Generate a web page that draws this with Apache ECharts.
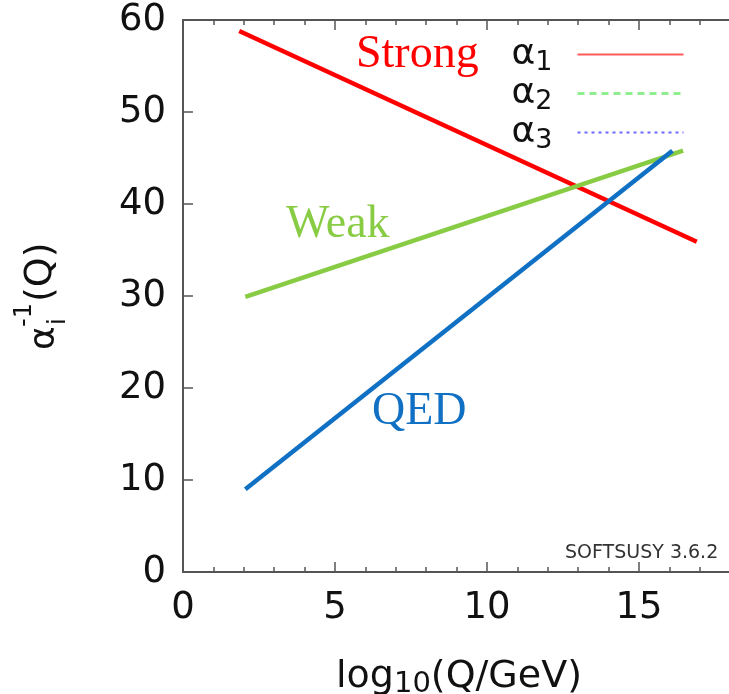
<!DOCTYPE html>
<html>
<head>
<meta charset="utf-8">
<script src="https://cdn.jsdelivr.net/npm/echarts@6/dist/echarts.min.js"></script>
<style>
  html, body { margin: 0; padding: 0; background: #fff; }
  #chart { width: 729px; height: 694px; }
</style>
</head>
<body>
<div id="chart"></div>
<script>
// α1 (red, "Strong"), α2 (green, "Weak"), α3 (blue, "QED")
const names = ["α1", "α2", "α3"];
const x1 = [1.85, 16.9];
const y1 = [58.8, 35.9];
const x2 = [2.05, 16.45];
const y2 = [29.9, 45.8];
const x3 = [2.05, 16.1];
const y3 = [9.0, 45.8];
const xTicks = [0, 5, 10, 15];
const yTicks = [0, 10, 20, 30, 40, 50, 60];

const axisColor = "#555";
const textColor = "#111";
const sans = "DejaVu Sans";
const serif = "Liberation Serif";

function pairs(xs, ys) {
  return xs.map((x, i) => [x, ys[i]]);
}

const chart = echarts.init(document.getElementById("chart"));
chart.setOption({
  animation: false,
  grid: {
    left: 183,
    top: 20,
    right: -62, // frame runs past the right edge of the picture
    bottom: 122,
    containLabel: false,
    outerBoundsMode: "none",
  },
  legend: {
    orient: "vertical",
    right: 39,
    top: 28,
    align: "right",
    itemWidth: 106,
    itemHeight: 30,
    itemGap: -4,
    data: [
      { name: names[0], itemStyle: { opacity: 0 }, lineStyle: { color: "#ff5a5a", width: 2, type: "solid", opacity: 1 } },
      { name: names[1], itemStyle: { opacity: 0 }, lineStyle: { color: "#90ee90", width: 3, type: [7, 5], opacity: 1 } },
      { name: names[2], itemStyle: { opacity: 0 }, lineStyle: { color: "#6a6aff", width: 2, type: [3, 4], opacity: 1 } },
    ],
    formatter: (n) => "{a|α}{s|" + n.slice(1) + "}",
    textStyle: {
      color: textColor,
      rich: {
        a: { fontFamily: sans, fontSize: 36, color: textColor, lineHeight: 30 },
        s: { fontFamily: sans, fontSize: 27, color: textColor, lineHeight: 14, padding: [16, 20, 0, 0] },
      },
    },
  },
  xAxis: [
    {
      type: "value",
      min: 0,
      max: 20,
      interval: 5,
      position: "bottom",
      axisLine: { lineStyle: { color: axisColor, width: 2 } },
      axisTick: { inside: true, length: 10, lineStyle: { color: axisColor, width: 1.5 } },
      minorTick: { show: true, splitNumber: 5, length: 5, lineStyle: { color: axisColor, width: 1.5 } },
      splitLine: { show: false },
      axisLabel: {
        color: textColor,
        fontFamily: sans,
        fontSize: 37,
        margin: 18,
        formatter: (v) => (xTicks.includes(v) ? String(v) : ""),
      },
    },
    {
      type: "value",
      min: 0,
      max: 20,
      interval: 5,
      position: "top",
      axisLine: { lineStyle: { color: axisColor, width: 2 } },
      axisTick: { inside: true, length: 10, lineStyle: { color: axisColor, width: 1.5 } },
      minorTick: { show: true, splitNumber: 5, length: 5, lineStyle: { color: axisColor, width: 1.5 } },
      splitLine: { show: false },
      axisLabel: { show: false },
    },
  ],
  yAxis: [
    {
      type: "value",
      min: 0,
      max: 60,
      interval: 10,
      position: "left",
      axisLine: { show: true, lineStyle: { color: axisColor, width: 2 } },
      axisTick: { show: true, inside: true, length: 10, lineStyle: { color: axisColor, width: 1.5 } },
      splitLine: { show: false },
      axisLabel: {
        color: textColor,
        fontFamily: sans,
        fontSize: 37,
        margin: 17,
        formatter: (v) => (yTicks.includes(v) ? String(v) : ""),
      },
    },
  ],
  series: [
    {
      name: names[0],
      type: "line",
      data: pairs(x1, y1),
      symbol: "none",
      lineStyle: { color: "#ff0000", width: 4.5 },
      itemStyle: { color: "#ff0000" },
    },
    {
      name: names[1],
      type: "line",
      data: pairs(x2, y2),
      symbol: "none",
      lineStyle: { color: "#88cc44", width: 4.5 },
      itemStyle: { color: "#88cc44" },
    },
    {
      name: names[2],
      type: "line",
      data: pairs(x3, y3),
      symbol: "none",
      lineStyle: { color: "#1070c4", width: 4.5 },
      itemStyle: { color: "#1070c4" },
    },
  ],
  graphic: [
    // curve labels
    { type: "text", style: { text: "Strong", x: 356, y: 55, font: "46px " + serif, fill: "#ff0000", verticalAlign: "middle" } },
    { type: "text", style: { text: "Weak", x: 286, y: 225, font: "46px " + serif, fill: "#88cc44", verticalAlign: "middle" } },
    { type: "text", style: { text: "QED", x: 372, y: 412, font: "46px " + serif, fill: "#1070c4", verticalAlign: "middle" } },
    // program stamp
    { type: "text", style: { text: "SOFTSUSY 3.6.2", x: 565, y: 553, font: "19px " + sans, fill: "#333", verticalAlign: "middle" } },
    // x axis title
    {
      type: "text",
      style: {
        text: "{a|log}{s|10}{a|(Q/GeV)}",
        x: 336,
        y: 677,
        verticalAlign: "middle",
        rich: {
          a: { fontFamily: sans, fontSize: 38, fill: textColor, color: textColor },
          s: { fontFamily: sans, fontSize: 29, fill: textColor, color: textColor, padding: [14, 0, 0, 0] },
        },
      },
    },
    // y axis title, rotated: α with stacked -1 / i, then (Q)
    {
      type: "group",
      x: 45,
      y: 298,
      rotation: Math.PI / 2,
      children: [
        { type: "text", style: { text: "α", x: -52, y: 0, font: "36px " + sans, fill: textColor, verticalAlign: "middle" } },
        { type: "text", style: { text: "-1", x: -29, y: -20, font: "24px " + sans, fill: textColor, verticalAlign: "middle" } },
        { type: "text", style: { text: "i", x: -27, y: 14, font: "24px " + sans, fill: textColor, verticalAlign: "middle" } },
        { type: "text", style: { text: "(Q)", x: -4, y: -4, font: "38px " + sans, fill: textColor, verticalAlign: "middle" } },
      ],
    },
  ],
});
</script>
</body>
</html>
